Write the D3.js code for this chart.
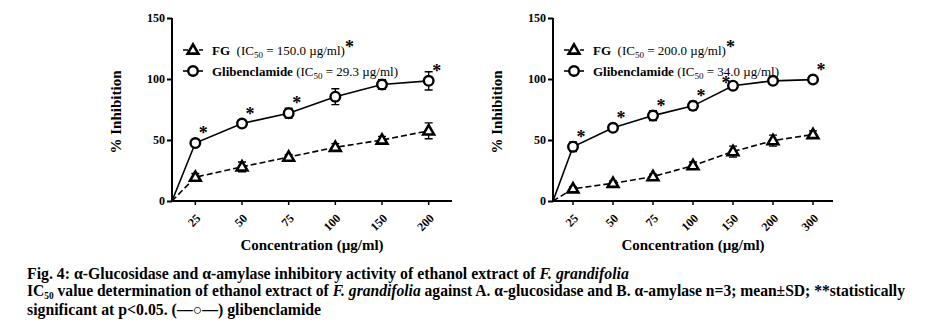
<!DOCTYPE html>
<html><head><meta charset="utf-8">
<script src="https://cdn.jsdelivr.net/npm/d3@7"></script>
<style>
html,body{margin:0;padding:0;background:#fff;}
svg{display:block;font-family:"Liberation Serif","Times New Roman",serif;}
</style></head>
<body>
<svg id="chart" width="939" height="326"></svg>
<script>
// ---- data ----
const catsA = ["25","50","75","100","150","200"];
const fgA = [19.5, 28, 36, 44, 50, 57.5];
const fgAerr = [3, 4, 2, 3, 3, 6.5];
const glA = [47.5, 63.5, 72, 85.5, 95.5, 98.5];
const glAerr = [2, 3, 4, 6.5, 4, 7.5];
const starsA = [true, true, true, false, false, true];
const ic50FgA = "150.0", ic50GlA = "29.3";

const catsB = ["25","50","75","100","150","200","300"];
const fgB = [10, 14.5, 20, 29, 40.5, 49.5, 54.5];
const fgBerr = [1.5, 2, 2, 3, 4.5, 4.5, 3];
const glB = [44.5, 60, 70, 78, 94.5, 98.5, 99.5];
const glBerr = [4, 2, 4, 3.5, 2.5, 1.5, 1];
const starsB = [true, true, true, true, true, false, true];
const ic50FgB = "200.0", ic50GlB = "34.0";

const yTicks = [0, 50, 100, 150];

const svg = d3.select("#chart");
const SERIF = "Liberation Serif";

function panel(cfg) {
  const g = svg.append("g");
  const x = d3.scaleBand().domain(cfg.cats).range([cfg.x0, cfg.x1]);
  const cx = c => x(c) + x.bandwidth() / 2;
  const y = d3.scaleLinear().domain([0, 150]).range([201, 18]);

  // axes
  const ya = g.append("g").attr("transform", `translate(${cfg.x0},0)`)
    .call(d3.axisLeft(y).tickValues(yTicks).tickSize(5).tickPadding(2).tickFormat(d3.format("d")));
  ya.attr("font-family", SERIF);
  ya.select(".domain").attr("stroke-width", 2).attr("d", `M0,${y(150)}V${y(0)}`);
  ya.selectAll(".tick line").attr("stroke-width", 2);
  ya.selectAll(".tick text").attr("font-size", 12).attr("font-weight", "bold");

  const xa = g.append("g").attr("transform", `translate(0,${y(0)})`)
    .call(d3.axisBottom(x).tickSize(4).tickSizeOuter(0));
  xa.attr("font-family", SERIF);
  xa.select(".domain").attr("stroke-width", 2).attr("d", `M${cfg.x0},0H${cfg.x1}`);
  xa.selectAll(".tick line").attr("stroke-width", 1.5);
  xa.selectAll(".tick text")
    .attr("font-size", 12).attr("font-weight", "bold")
    .attr("text-anchor", "end").attr("dy", "0.35em")
    .attr("transform", "translate(3,15) rotate(-45)")
    .attr("y", 0).attr("x", 0);

  // axis titles
  g.append("text").attr("x", (cfg.x0 + cfg.x1) / 2).attr("y", 250)
    .attr("text-anchor", "middle").attr("font-size", 15).attr("font-weight", "bold")
    .text("Concentration (µg/ml)");
  g.append("text").attr("transform", `translate(${cfg.x0 - 51},112) rotate(-90)`)
    .attr("text-anchor", "middle").attr("font-size", 15).attr("font-weight", "bold")
    .text("% Inhibition");

  const origin = { x: cfg.x0, y: y(0) };
  const ptsFg = [origin].concat(cfg.cats.map((c, i) => ({ x: cx(c), y: y(cfg.fg[i]) })));
  const ptsGl = [origin].concat(cfg.cats.map((c, i) => ({ x: cx(c), y: y(cfg.gl[i]) })));
  const line = d3.line().x(d => d.x).y(d => d.y);

  g.append("path").attr("d", line(ptsFg)).attr("fill", "none").attr("stroke", "#000")
    .attr("stroke-width", 1.6).attr("stroke-dasharray", "6,3");
  g.append("path").attr("d", line(ptsGl)).attr("fill", "none").attr("stroke", "#000")
    .attr("stroke-width", 1.6);

  function errbars(vals, errs) {
    cfg.cats.forEach((c, i) => {
      const xx = cx(c), t = y(vals[i] + errs[i]), b = y(vals[i] - errs[i]);
      g.append("path").attr("d", `M${xx},${t}V${b}M${xx-4},${t}H${xx+4}M${xx-4},${b}H${xx+4}`)
        .attr("stroke", "#000").attr("stroke-width", 1.4).attr("fill", "none");
    });
  }
  errbars(cfg.fg, cfg.fgErr);
  errbars(cfg.gl, cfg.glErr);

  const legendRight = cfg.x0 + 232, legendBottom = 80;
  const tri = d3.symbol().type(d3.symbolTriangle).size(50);
  cfg.cats.forEach((c, i) => {
    g.append("path").attr("d", tri()).attr("transform", `translate(${cx(c)},${y(cfg.fg[i]) + 0.5})`)
      .attr("fill", "#fff").attr("stroke", "#000").attr("stroke-width", 2.6);
    g.append("circle").attr("cx", cx(c)).attr("cy", y(cfg.gl[i])).attr("r", 4.8)
      .attr("fill", "#fff").attr("stroke", "#000").attr("stroke-width", 2.4);
    if (cfg.stars[i]) {
      const py = y(cfg.gl[i]);
      const clash = (py - 14 < legendBottom) && (cx(c) < legendRight);
      g.append("text").attr("x", clash ? cx(c) - 7 : cx(c) + 8).attr("y", clash ? py + 3 : py - 4)
        .attr("font-size", 18).attr("font-weight", "bold").attr("text-anchor", "middle").text("*");
    }
  });

  // legend
  const lx = cfg.x0 + 21, lyF = 50, lyG = 71;
  g.append("path").attr("d", `M${lx-10},${lyF}H${lx+10}`).attr("stroke", "#000")
    .attr("stroke-width", 1.6).attr("stroke-dasharray", "5,3");
  g.append("path").attr("d", tri()).attr("transform", `translate(${lx},${lyF + 0.5})`)
    .attr("fill", "#fff").attr("stroke", "#000").attr("stroke-width", 2.6);
  g.append("path").attr("d", `M${lx-10},${lyG}H${lx+10}`).attr("stroke", "#000").attr("stroke-width", 1.6);
  g.append("circle").attr("cx", lx).attr("cy", lyG).attr("r", 4.8)
    .attr("fill", "#fff").attr("stroke", "#000").attr("stroke-width", 2.4);

  const t1 = g.append("text").attr("x", lx + 19).attr("y", lyF + 5).attr("font-size", 13);
  t1.append("tspan").attr("font-weight", "bold").text("FG");
  t1.append("tspan").text("\u00a0\u00a0(IC");
  t1.append("tspan").attr("font-size", 9).attr("dy", 3).text("50");
  t1.append("tspan").attr("dy", -3).text(` = ${cfg.icF} µg/ml)`);
  t1.append("tspan").attr("font-size", 18).attr("dy", -2).attr("font-weight", "bold").text("*");

  const t2 = g.append("text").attr("x", lx + 19).attr("y", lyG + 5).attr("font-size", 13);
  t2.append("tspan").attr("font-weight", "bold").text("Glibenclamide");
  t2.append("tspan").text(" (IC");
  t2.append("tspan").attr("font-size", 9).attr("dy", 3).text("50");
  t2.append("tspan").attr("dy", -3).text(` = ${cfg.icG} µg/ml)`);
}

panel({ cats: catsA, fg: fgA, fgErr: fgAerr, gl: glA, glErr: glAerr, stars: starsA,
        icF: ic50FgA, icG: ic50GlA, x0: 172, x1: 452 });
panel({ cats: catsB, fg: fgB, fgErr: fgBerr, gl: glB, glErr: glBerr, stars: starsB,
        icF: ic50FgB, icG: ic50GlB, x0: 553, x1: 833 });

// caption
const cap = svg.append("g").attr("font-size", 15.8).attr("font-weight", "bold");
const c1 = cap.append("text").attr("x", 27).attr("y", 279);
c1.append("tspan").text("Fig. 4: α-Glucosidase and α-amylase inhibitory activity of ethanol extract of ");
c1.append("tspan").attr("font-style", "italic").text("F. grandifolia");

const c2 = cap.append("text").attr("x", 27).attr("y", 296)
  .attr("textLength", 878).attr("lengthAdjust", "spacingAndGlyphs");
c2.append("tspan").text("IC");
c2.append("tspan").attr("font-size", 9.5).attr("dy", 3).text("50");
c2.append("tspan").attr("dy", -3).text(" value determination of ethanol extract of ");
c2.append("tspan").attr("font-style", "italic").text("F. grandifolia");
c2.append("tspan").text(" against A. α-glucosidase and B. α-amylase n=3; mean±SD; **statistically");

const c3 = cap.append("text").attr("x", 27).attr("y", 315);
c3.append("tspan").text("significant at p<0.05. (");
c3.append("tspan").text("\u2014\u25cb\u2014");
c3.append("tspan").text(") glibenclamide");
</script>
</body></html>
